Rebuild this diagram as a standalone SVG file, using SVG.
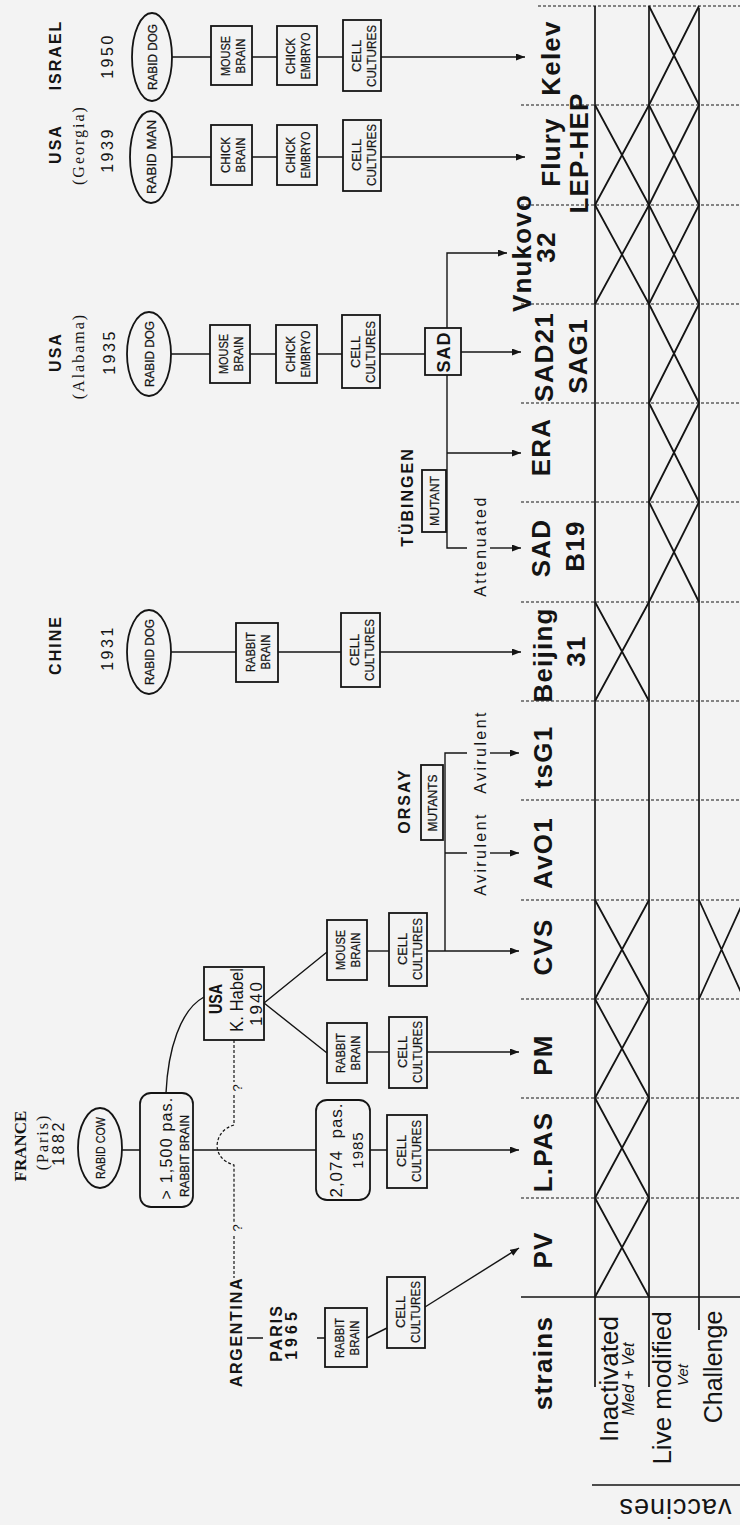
<svg xmlns="http://www.w3.org/2000/svg" width="740" height="1525" viewBox="0 0 740 1525">
<defs>
<style>
text{font-family:"Liberation Sans",Arial,sans-serif;fill:#141414;text-anchor:middle}
.strain{font-size:26px;font-weight:bold;letter-spacing:1.2px}
.place{font-size:16px;font-weight:bold;letter-spacing:2px}
.paren{font-family:"Liberation Serif","Times New Roman",serif;font-size:16px;letter-spacing:2px}
.year{font-size:16px;letter-spacing:2.5px}
.sm{font-size:13px;stroke:#141414;stroke-width:0.25}
.lab{font-size:16px;letter-spacing:2.4px}
.row{font-size:26px}
.it{font-style:italic}
.bx{fill:none;stroke:#141414;stroke-width:1.8}
.ln{fill:none;stroke:#141414;stroke-width:1.4}
.dash{fill:none;stroke:#141414;stroke-width:1.2;stroke-dasharray:3 2}
.tb{fill:none;stroke:#141414;stroke-width:1.7}
.xx{fill:none;stroke:#141414;stroke-width:1.8}
</style>
<marker id="ah" markerWidth="9" markerHeight="7" refX="9" refY="3.5" orient="auto" markerUnits="userSpaceOnUse"><path d="M0,0 L9,3.5 L0,7 z" fill="#141414"/></marker>
</defs>
<rect width="740" height="1525" fill="#f3f3f3"/>

<g id="connectors">
<path class="ln" d="M172,57 H211 M252,57 H277 M317,57 H343"/>
<path class="ln" d="M381,57 H525" marker-end="url(#ah)"/>
<path class="ln" d="M172,157 H211 M252,157 H277 M317,157 H343"/>
<path class="ln" d="M381,157 H525" marker-end="url(#ah)"/>
<path class="ln" d="M171,354 H210 M250,354 H276 M317,354 H342 M380,354 H425"/>
<path class="ln" d="M461,352 H521" marker-end="url(#ah)"/>
<path class="ln" d="M447,328 V253 H507" marker-end="url(#ah)"/>
<path class="ln" d="M447,375 V548 H467"/>
<path class="ln" d="M490,548 H521" marker-end="url(#ah)"/>
<path class="ln" d="M447,453 H521" marker-end="url(#ah)"/>
<path class="ln" d="M171,652 H236 M278,652 H341"/>
<path class="ln" d="M380,652 H521" marker-end="url(#ah)"/>
<path class="ln" d="M445,951 V753 H467 M445,853 H467"/>
<path class="ln" d="M490,753 H519" marker-end="url(#ah)"/>
<path class="ln" d="M490,853 H519" marker-end="url(#ah)"/>
<path class="ln" d="M264,1003 L327,952 M264,1003 L327,1053"/>
<path class="ln" d="M367,951 H389"/>
<path class="ln" d="M427,951 H519" marker-end="url(#ah)"/>
<path class="ln" d="M367,1052 H389"/>
<path class="ln" d="M427,1052 H519" marker-end="url(#ah)"/>
<path class="ln" d="M166,1093 C168,1050 180,1010 204,997"/>
<path class="ln" d="M122,1150 H140 M193,1150 H316 M370,1150 H387"/>
<path class="ln" d="M427,1150 H519" marker-end="url(#ah)"/>
<path class="dash" d="M234,1040 V1082 M234,1095 V1125 Q218,1130 217,1146 Q218,1160 234,1165 V1222 M234,1236 V1278"/>
<path class="ln" d="M247,1338 H263 M317,1338 H325 M367,1338 L387,1328"/>
<path class="ln" d="M425,1307 L519,1248" marker-end="url(#ah)"/>
</g>

<g id="israel">
<text class="place" transform="translate(61,55) rotate(-90)">ISRAEL</text>
<text class="year" transform="translate(113,56) rotate(-90)">1950</text>
<ellipse class="bx" cx="152" cy="57" rx="20" ry="44"/>
<text class="sm" transform="translate(156.5,57) rotate(-90)" textLength="66" lengthAdjust="spacingAndGlyphs">RABID DOG</text>
<rect class="bx" x="211" y="26" width="41" height="59"/>
<text class="sm" transform="translate(230,56) rotate(-90)" textLength="40" lengthAdjust="spacingAndGlyphs">MOUSE</text>
<text class="sm" transform="translate(245,56) rotate(-90)" textLength="35" lengthAdjust="spacingAndGlyphs">BRAIN</text>
<rect class="bx" x="277" y="26" width="40" height="59"/>
<text class="sm" transform="translate(295,56) rotate(-90)" textLength="36" lengthAdjust="spacingAndGlyphs">CHICK</text>
<text class="sm" transform="translate(310,56) rotate(-90)" textLength="47" lengthAdjust="spacingAndGlyphs">EMBRYO</text>
<rect class="bx" x="343" y="20" width="38" height="71"/>
<text class="sm" transform="translate(361,56) rotate(-90)" textLength="32" lengthAdjust="spacingAndGlyphs">CELL</text>
<text class="sm" transform="translate(376,56) rotate(-90)" textLength="62" lengthAdjust="spacingAndGlyphs">CULTURES</text>
</g>

<g id="georgia">
<text class="place" transform="translate(61,144) rotate(-90)">USA</text>
<text class="paren" transform="translate(84,145) rotate(-90)">(Georgia)</text>
<text class="year" transform="translate(113,150) rotate(-90)">1939</text>
<ellipse class="bx" cx="151" cy="157" rx="21" ry="46"/>
<text class="sm" transform="translate(155.5,157) rotate(-90)" textLength="74" lengthAdjust="spacingAndGlyphs">RABID MAN</text>
<rect class="bx" x="211" y="125" width="41" height="60"/>
<text class="sm" transform="translate(230,155) rotate(-90)" textLength="36" lengthAdjust="spacingAndGlyphs">CHICK</text>
<text class="sm" transform="translate(245,155) rotate(-90)" textLength="35" lengthAdjust="spacingAndGlyphs">BRAIN</text>
<rect class="bx" x="277" y="125" width="40" height="60"/>
<text class="sm" transform="translate(295,155) rotate(-90)" textLength="36" lengthAdjust="spacingAndGlyphs">CHICK</text>
<text class="sm" transform="translate(310,155) rotate(-90)" textLength="47" lengthAdjust="spacingAndGlyphs">EMBRYO</text>
<rect class="bx" x="343" y="120" width="38" height="71"/>
<text class="sm" transform="translate(361,155) rotate(-90)" textLength="32" lengthAdjust="spacingAndGlyphs">CELL</text>
<text class="sm" transform="translate(376,155) rotate(-90)" textLength="62" lengthAdjust="spacingAndGlyphs">CULTURES</text>
</g>

<g id="alabama">
<text class="place" transform="translate(61,352) rotate(-90)">USA</text>
<text class="paren" transform="translate(84,356) rotate(-90)">(Alabama)</text>
<text class="year" transform="translate(115,352) rotate(-90)">1935</text>
<ellipse class="bx" cx="149" cy="354" rx="22" ry="42"/>
<text class="sm" transform="translate(153.5,354) rotate(-90)" textLength="66" lengthAdjust="spacingAndGlyphs">RABID DOG</text>
<rect class="bx" x="210" y="325" width="40" height="58"/>
<text class="sm" transform="translate(228,354) rotate(-90)" textLength="40" lengthAdjust="spacingAndGlyphs">MOUSE</text>
<text class="sm" transform="translate(243,354) rotate(-90)" textLength="35" lengthAdjust="spacingAndGlyphs">BRAIN</text>
<rect class="bx" x="276" y="325" width="41" height="58"/>
<text class="sm" transform="translate(295,354) rotate(-90)" textLength="36" lengthAdjust="spacingAndGlyphs">CHICK</text>
<text class="sm" transform="translate(310,354) rotate(-90)" textLength="47" lengthAdjust="spacingAndGlyphs">EMBRYO</text>
<rect class="bx" x="342" y="315" width="38" height="73"/>
<text class="sm" transform="translate(360,352) rotate(-90)" textLength="32" lengthAdjust="spacingAndGlyphs">CELL</text>
<text class="sm" transform="translate(375,352) rotate(-90)" textLength="62" lengthAdjust="spacingAndGlyphs">CULTURES</text>
<rect class="bx" x="425" y="328" width="36" height="47"/>
<text transform="translate(450,352) rotate(-90)" style="font-size:18px;font-weight:bold;letter-spacing:1px">SAD</text>
</g>

<g id="tubingen">
<text class="place" transform="translate(413,497) rotate(-90)">TÜBINGEN</text>
<rect class="bx" x="422" y="470" width="24" height="62"/>
<text class="sm" transform="translate(438.5,501) rotate(-90)" textLength="50" lengthAdjust="spacingAndGlyphs">MUTANT</text>
<text class="lab" transform="translate(486,546) rotate(-90)">Attenuated</text>
</g>

<g id="china">
<text class="place" transform="translate(61,645) rotate(-90)">CHINE</text>
<text class="year" transform="translate(113,648) rotate(-90)">1931</text>
<ellipse class="bx" cx="149" cy="652" rx="22" ry="42"/>
<text class="sm" transform="translate(153.5,652) rotate(-90)" textLength="66" lengthAdjust="spacingAndGlyphs">RABID DOG</text>
<rect class="bx" x="236" y="623" width="42" height="59"/>
<text class="sm" transform="translate(255,652) rotate(-90)" textLength="40" lengthAdjust="spacingAndGlyphs">RABBIT</text>
<text class="sm" transform="translate(270,652) rotate(-90)" textLength="35" lengthAdjust="spacingAndGlyphs">BRAIN</text>
<rect class="bx" x="341" y="613" width="39" height="74"/>
<text class="sm" transform="translate(359,650) rotate(-90)" textLength="32" lengthAdjust="spacingAndGlyphs">CELL</text>
<text class="sm" transform="translate(374,650) rotate(-90)" textLength="62" lengthAdjust="spacingAndGlyphs">CULTURES</text>
</g>

<g id="orsay">
<text class="place" transform="translate(410,801) rotate(-90)">ORSAY</text>
<rect class="bx" x="421" y="765" width="22" height="75"/>
<text class="sm" transform="translate(436.5,803) rotate(-90)" textLength="57" lengthAdjust="spacingAndGlyphs">MUTANTS</text>
<text class="lab" transform="translate(486,752) rotate(-90)">Avirulent</text>
<text class="lab" transform="translate(486,854) rotate(-90)">Avirulent</text>
</g>

<g id="habel">
<rect class="bx" x="204" y="967" width="60" height="73"/>
<text transform="translate(222,999) rotate(-90)" style="font-size:18px;font-weight:bold" textLength="30" lengthAdjust="spacingAndGlyphs">USA</text>
<text transform="translate(243,1000) rotate(-90)" style="font-size:18px" textLength="64" lengthAdjust="spacingAndGlyphs">K. Habel</text>
<text transform="translate(262,1003) rotate(-90)" style="font-size:17px;letter-spacing:2px">1940</text>
<text transform="translate(242,1088) rotate(-90)" style="font-size:13px">?</text>
</g>

<g id="cvs-chain">
<rect class="bx" x="327" y="920" width="40" height="60"/>
<text class="sm" transform="translate(345,950) rotate(-90)" textLength="40" lengthAdjust="spacingAndGlyphs">MOUSE</text>
<text class="sm" transform="translate(360,950) rotate(-90)" textLength="35" lengthAdjust="spacingAndGlyphs">BRAIN</text>
<rect class="bx" x="389" y="913" width="38" height="73"/>
<text class="sm" transform="translate(407,949) rotate(-90)" textLength="32" lengthAdjust="spacingAndGlyphs">CELL</text>
<text class="sm" transform="translate(422,949) rotate(-90)" textLength="62" lengthAdjust="spacingAndGlyphs">CULTURES</text>
</g>

<g id="pm-chain">
<rect class="bx" x="327" y="1023" width="40" height="60"/>
<text class="sm" transform="translate(345,1053) rotate(-90)" textLength="40" lengthAdjust="spacingAndGlyphs">RABBIT</text>
<text class="sm" transform="translate(360,1053) rotate(-90)" textLength="35" lengthAdjust="spacingAndGlyphs">BRAIN</text>
<rect class="bx" x="389" y="1017" width="38" height="71"/>
<text class="sm" transform="translate(407,1052) rotate(-90)" textLength="32" lengthAdjust="spacingAndGlyphs">CELL</text>
<text class="sm" transform="translate(422,1052) rotate(-90)" textLength="62" lengthAdjust="spacingAndGlyphs">CULTURES</text>
</g>

<g id="france">
<text transform="translate(26,1146) rotate(-90)" style="font-family:'Liberation Serif','Times New Roman',serif;font-size:17px;font-weight:bold">FRANCE</text>
<text class="paren" transform="translate(48,1142) rotate(-90)">(Paris)</text>
<text class="year" transform="translate(64,1143) rotate(-90)">1882</text>
<ellipse class="bx" cx="100" cy="1148" rx="22" ry="40"/>
<text class="sm" transform="translate(104.5,1148) rotate(-90)" textLength="62" lengthAdjust="spacingAndGlyphs">RABID COW</text>
<rect class="bx" x="140" y="1093" width="53" height="114" rx="11"/>
<text transform="translate(172,1148) rotate(-90)" style="font-size:16px;letter-spacing:1.2px">&gt; 1,500 pas.</text>
<text class="sm" transform="translate(189,1156) rotate(-90)" textLength="82" lengthAdjust="spacingAndGlyphs">RABBIT BRAIN</text>
<rect class="bx" x="316" y="1100" width="54" height="100" rx="11"/>
<text transform="translate(342,1150) rotate(-90)" style="font-size:17px;letter-spacing:1px" xml:space="preserve">2,074  pas.</text>
<text transform="translate(363,1150) rotate(-90)" style="font-size:15px;letter-spacing:1px">1985</text>
<rect class="bx" x="387" y="1115" width="40" height="73"/>
<text class="sm" transform="translate(406,1151) rotate(-90)" textLength="32" lengthAdjust="spacingAndGlyphs">CELL</text>
<text class="sm" transform="translate(421,1151) rotate(-90)" textLength="62" lengthAdjust="spacingAndGlyphs">CULTURES</text>
</g>

<g id="argentina">
<text transform="translate(242,1228) rotate(-90)" style="font-size:13px">?</text>
<text class="place" transform="translate(242,1332) rotate(-90)" style="letter-spacing:1.7px">ARGENTINA</text>
<text class="place" transform="translate(282,1333) rotate(-90)">PARIS</text>
<text class="place" transform="translate(297,1334) rotate(-90)" style="letter-spacing:4px">1965</text>
<rect class="bx" x="325" y="1308" width="42" height="59"/>
<text class="sm" transform="translate(344,1338) rotate(-90)" textLength="40" lengthAdjust="spacingAndGlyphs">RABBIT</text>
<text class="sm" transform="translate(359,1338) rotate(-90)" textLength="35" lengthAdjust="spacingAndGlyphs">BRAIN</text>
<rect class="bx" x="387" y="1277" width="38" height="71"/>
<text class="sm" transform="translate(405,1312) rotate(-90)" textLength="32" lengthAdjust="spacingAndGlyphs">CELL</text>
<text class="sm" transform="translate(420,1312) rotate(-90)" textLength="62" lengthAdjust="spacingAndGlyphs">CULTURES</text>
</g>

<g id="strains">
<text class="strain" transform="translate(560,58) rotate(-90)">Kelev</text>
<text class="strain" transform="translate(560,152) rotate(-90)">Flury</text>
<text class="strain" transform="translate(588,153) rotate(-90)">LEP-HEP</text>
<text class="strain" transform="translate(531,253) rotate(-90)">Vnukovo</text>
<text class="strain" transform="translate(555,247) rotate(-90)">32</text>
<text class="strain" transform="translate(553,357) rotate(-90)">SAD21</text>
<text class="strain" transform="translate(587,356) rotate(-90)">SAG1</text>
<text class="strain" transform="translate(550,447) rotate(-90)">ERA</text>
<text class="strain" transform="translate(550,548) rotate(-90)">SAD</text>
<text class="strain" transform="translate(584,546) rotate(-90)">B19</text>
<text class="strain" transform="translate(552,655) rotate(-90)">Beijing</text>
<text class="strain" transform="translate(585,651) rotate(-90)">31</text>
<text class="strain" transform="translate(552,757) rotate(-90)">tsG1</text>
<text class="strain" transform="translate(552,853) rotate(-90)">AvO1</text>
<text class="strain" transform="translate(552,947) rotate(-90)">CVS</text>
<text class="strain" transform="translate(552,1055) rotate(-90)">PM</text>
<text class="strain" transform="translate(552,1152) rotate(-90)">L.PAS</text>
<text class="strain" transform="translate(552,1250) rotate(-90)">PV</text>
<text class="strain" transform="translate(552,1363) rotate(-90)" style="letter-spacing:1.3px">strains</text>
</g>

<g id="table">
<path class="dash" d="M538,6 H740 M521,105 H740 M521,205 H740 M521,304 H740 M521,403 H740 M521,502 H740 M521,602 H740 M521,701 H740 M521,800 H740 M521,900 H740 M521,999 H740 M521,1098 H740 M521,1198 H740"/>
<path class="tb" d="M521,1297 H740 M595,6 V1387 M649,6 V1387 M699,8 V1330 M592,1485 H740"/>
<path class="xx" d="M595,105 L649,205 M595,205 L649,105 M595,205 L649,304 M595,304 L649,205 M595,602 L649,701 M595,701 L649,602 M595,900 L649,999 M595,999 L649,900 M595,999 L649,1098 M595,1098 L649,999 M595,1098 L649,1198 M595,1198 L649,1098 M595,1198 L649,1297 M595,1297 L649,1198"/>
<path class="xx" d="M649,6 L699,105 M649,105 L699,6 M649,105 L699,205 M649,205 L699,105 M649,205 L699,304 M649,304 L699,205 M649,304 L699,403 M649,403 L699,304 M649,403 L699,502 M649,502 L699,403 M649,502 L699,602 M649,602 L699,502"/>
<path class="xx" d="M699,900 L744,999 M699,999 L744,900"/>
<text class="row" transform="translate(618,1379) rotate(-90)">Inactivated</text>
<text class="it" transform="translate(634,1379) rotate(-90)" style="font-size:16px">Med + Vet</text>
<text class="row" transform="translate(671,1388) rotate(-90)">Live modified</text>
<text class="it" transform="translate(688,1375) rotate(-90)" style="font-size:15px">Vet</text>
<text class="row" transform="translate(722,1367) rotate(-90)" style="font-size:25px">Challenge</text>
<text transform="translate(675,1499) rotate(180)" style="font-size:27px;letter-spacing:1px">vaccines</text>
</g>
</svg>
